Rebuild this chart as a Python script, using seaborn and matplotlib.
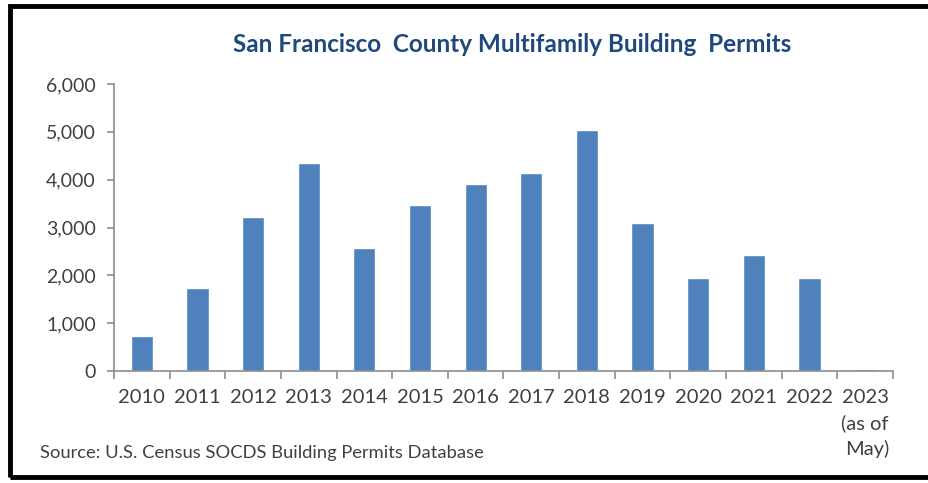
import matplotlib.pyplot as plt
import numpy as np
import pandas as pd
import seaborn as sns
from matplotlib.patches import Rectangle
from matplotlib.ticker import FuncFormatter, FixedLocator

# Chart data
years = [
    "2010", "2011", "2012", "2013", "2014", "2015", "2016",
    "2017", "2018", "2019", "2020", "2021", "2022", "2023\n(as of\nMay)",
]
permits = [730, 1740, 3230, 4340, 2580, 3480, 3900, 4150, 5030, 3100, 1950, 2430, 1950, 50]
y_ticks = [0, 1000, 2000, 3000, 4000, 5000, 6000]

title_text = "San Francisco  County Multifamily Building  Permits"
source_text = "Source: U.S. Census SOCDS Building Permits Database"

sns.set_theme(style="white")
plt.rcParams["font.family"] = ["Lato", "DejaVu Sans"]

bar_color = "#4F81BD"
axis_color = "#8C8C8C"
text_color = "#404040"

dataframe = pd.DataFrame({"year": years, "permits": permits})

figure = plt.figure(figsize=(9.29, 4.83), dpi=100)
axis = figure.add_axes([0.1227, 0.2319, 0.9612 - 0.1227, 0.826 - 0.2319])

sns.barplot(data=dataframe, x="year", y="permits", color=bar_color,
            width=0.4, saturation=1, ax=axis)

axis.set_xlim(-0.5, len(years) - 0.5)
axis.set_ylim(0, 6000)
axis.set_yticks(y_ticks)
axis.yaxis.set_major_formatter(FuncFormatter(lambda v, _: f"{int(v):,}"))
axis.set_xlabel("")
axis.set_ylabel("")

# Ticks sit between categories, labels at centres
axis.xaxis.set_minor_locator(FixedLocator(np.arange(-0.5, len(years), 1.0)))
axis.tick_params(axis="x", which="major", length=0, pad=13, labelsize=14.5, labelcolor=text_color)
axis.tick_params(axis="x", which="minor", length=6, width=1.2, color=axis_color, direction="out", bottom=True)
axis.tick_params(axis="y", length=5, width=1.2, color=axis_color, direction="out", left=True,
                 labelsize=14, labelcolor=text_color, pad=8)
for label in axis.get_xticklabels():
    label.set_multialignment("right")
    label.set_linespacing(1.55)

for side in ["top", "right"]:
    axis.spines[side].set_visible(False)
for side in ["left", "bottom"]:
    axis.spines[side].set_color(axis_color)
    axis.spines[side].set_linewidth(1.2)

figure.text(0.551, 0.907, title_text, ha="center", va="center",
            fontsize=17.5, fontweight="bold", color="#1F497D")
figure.text(0.043, 0.062, source_text, ha="left", va="center",
            fontsize=13.2, color=text_color)

# Black frame around the picture
figure.patches.append(Rectangle((0.011, 0.013), 1.2, 0.975, transform=figure.transFigure,
                                fill=False, edgecolor="black", linewidth=3.5))

figure.savefig("out.png", dpi=100)
plt.close()
